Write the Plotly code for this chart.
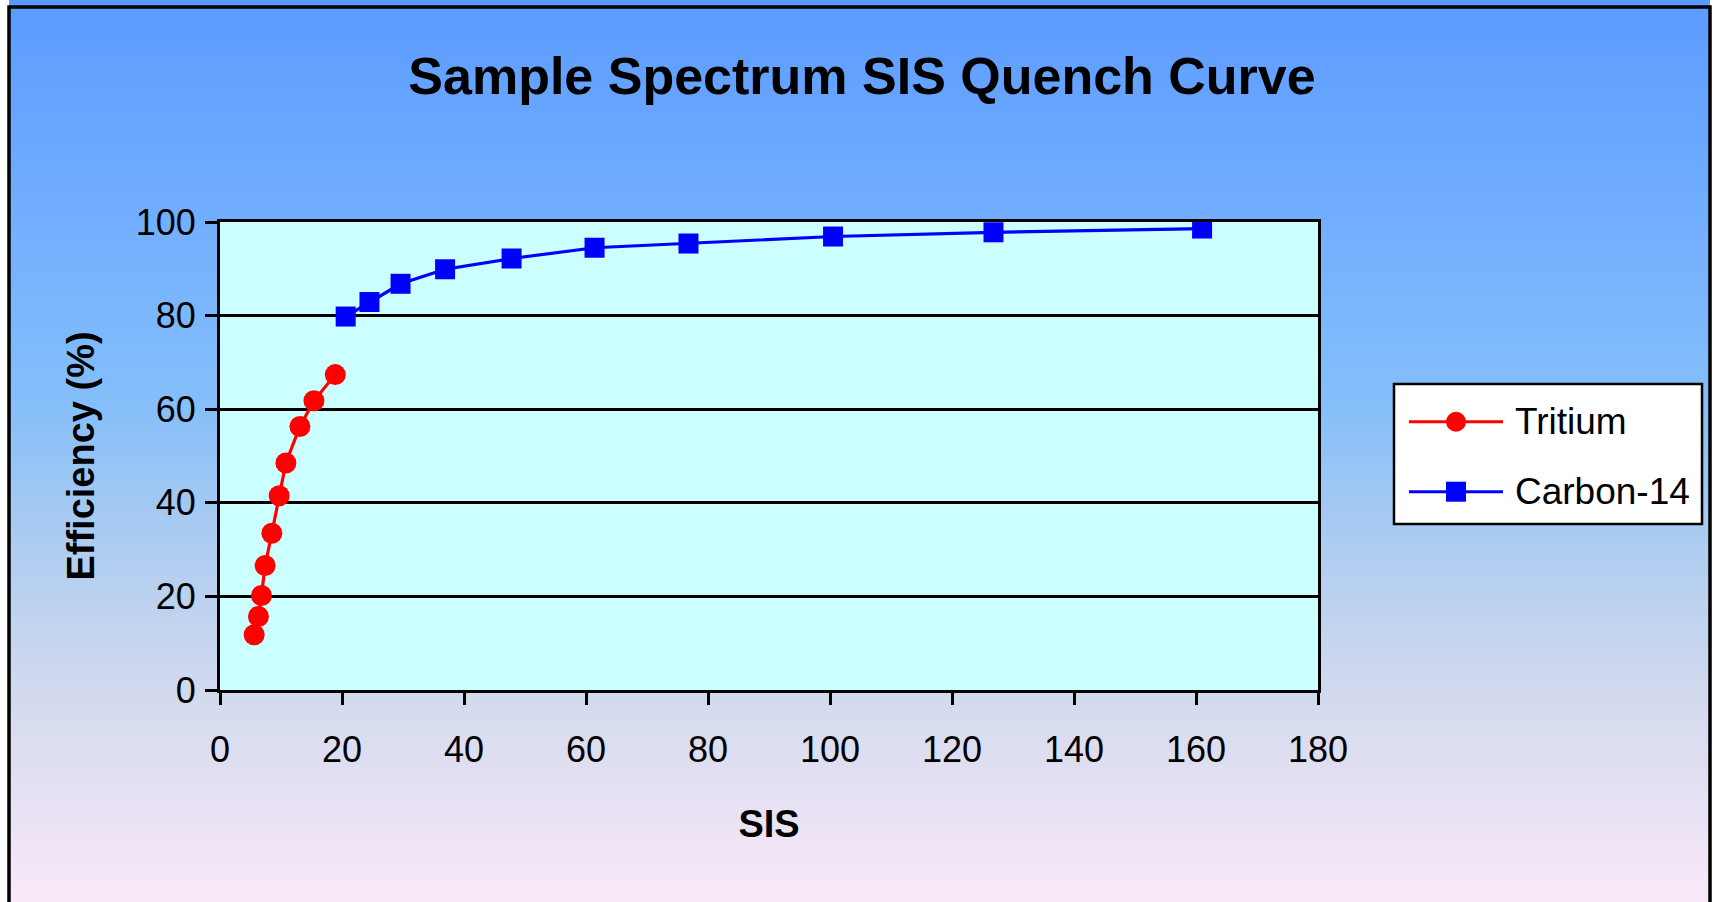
import plotly.graph_objects as go

# ---- data ----
tritium_sis = [5.6, 6.3, 6.8, 7.4, 8.5, 9.7, 10.8, 13.1, 15.4, 18.9]
tritium_eff = [11.8, 15.7, 20.2, 26.6, 33.5, 41.5, 48.5, 56.3, 61.8, 67.4]
carbon_sis = [20.6, 24.5, 29.6, 36.9, 47.8, 61.4, 76.8, 100.5, 126.8, 161.0]
carbon_eff = [79.8, 82.9, 86.8, 89.9, 92.2, 94.5, 95.4, 96.9, 97.8, 98.6]
series_names = ["Tritium", "Carbon-14"]
x_ticks = [0, 20, 40, 60, 80, 100, 120, 140, 160, 180]
y_ticks = [0, 20, 40, 60, 80, 100]

W, H = 1715, 902
FONT = "Arial, Liberation Sans, Helvetica, sans-serif"


def px(x):
    return x / W


def py(y):
    return 1 - y / H


# plot area in pixels
L, R, T, B = 220, 1318, 222, 690

fig = go.Figure()

fig.add_trace(go.Scatter(
    x=tritium_sis, y=tritium_eff, name=series_names[0], mode="lines+markers",
    line=dict(color="#FF0000", width=3.2),
    marker=dict(symbol="circle", size=21, color="#FF0000"),
    showlegend=False, xaxis="x", yaxis="y"))
fig.add_trace(go.Scatter(
    x=carbon_sis, y=carbon_eff, name=series_names[1], mode="lines+markers",
    line=dict(color="#0000FF", width=3.2),
    marker=dict(symbol="square", size=20, color="#0000FF"),
    showlegend=False, xaxis="x", yaxis="y"))

# ---- custom legend on a full-figure pixel overlay ----
leg_items = [(series_names[0], "#FF0000", "circle", 421.7),
             (series_names[1], "#0000FF", "square", 491.7)]
for name, col, sym, yy in leg_items:
    fig.add_trace(go.Scatter(
        x=[1409, 1503], y=[yy, yy], mode="lines",
        line=dict(color=col, width=3),
        showlegend=False, hoverinfo="skip", xaxis="x2", yaxis="y2"))
    fig.add_trace(go.Scatter(
        x=[1456], y=[yy], mode="markers",
        marker=dict(symbol=sym, size=20, color=col, opacity=1),
        showlegend=False, hoverinfo="skip", xaxis="x2", yaxis="y2"))

shapes = []
# gradient background as stripes
stops = [(0, (91, 155, 255)), (200, (112, 173, 255)), (400, (132, 190, 250)),
         (550, (175, 205, 240)), (700, (212, 218, 238)), (800, (230, 225, 243)),
         (902, (250, 233, 248))]


def col_at(y):
    for (y0, c0), (y1, c1) in zip(stops[:-1], stops[1:]):
        if y0 <= y <= y1:
            t = (y - y0) / (y1 - y0)
            return "rgb(%d,%d,%d)" % tuple(round(a + (b - a) * t) for a, b in zip(c0, c1))
    return "rgb(%d,%d,%d)" % stops[-1][1]


step = 5
for y0 in range(0, H, step):
    shapes.append(dict(type="rect", xref="paper", yref="paper", layer="below",
                       x0=px(9), x1=px(1710), y0=py(y0), y1=py(min(y0 + step + 1, H + 10)),
                       fillcolor=col_at(y0 + step / 2), line=dict(width=0)))
# legend box
shapes.append(dict(type="rect", xref="paper", yref="paper", layer="below",
                   x0=px(1394), x1=px(1702), y0=py(384), y1=py(524),
                   fillcolor="white", line=dict(color="black", width=2.5)))
# plot area background
shapes.append(dict(type="rect", xref="x domain", yref="y domain", layer="below",
                   x0=0, x1=1, y0=0, y1=1, fillcolor="#CCFFFF", line=dict(width=0)))
# outer frame
shapes.append(dict(type="rect", xref="paper", yref="paper", layer="above",
                   x0=px(9), x1=px(1710), y0=py(7), y1=py(930),
                   fillcolor="rgba(0,0,0,0)", line=dict(color="black", width=3.5)))

annotations = []
for name, col, sym, yy in leg_items:
    annotations.append(dict(text=name, xref="paper", yref="paper", x=px(1513), y=py(yy),
                            xanchor="left", yanchor="middle", showarrow=False,
                            font=dict(family=FONT, size=37, color="black")))

fig.update_layout(
    template="none",
    width=W, height=H,
    margin=dict(l=0, r=0, t=0, b=0, pad=0),
    paper_bgcolor="white",
    plot_bgcolor="rgba(0,0,0,0)",
    showlegend=False,
    title=dict(text="Sample Spectrum SIS Quench Curve", x=px(862), y=py(76),
               xanchor="center", yanchor="middle", xref="paper", yref="paper",
               automargin=False,
               font=dict(family=FONT, size=52, color="black", weight="bold")),
    xaxis=dict(domain=[px(L), px(R)], range=[0, 180], tickvals=x_ticks,
               ticks="outside", ticklen=12, tickwidth=3, tickcolor="black",
               showline=True, linewidth=3, linecolor="black", mirror=True,
               showgrid=False, zeroline=False, anchor="y", automargin=False,
               ticklabelstandoff=14,
               tickfont=dict(family=FONT, size=36, color="black"),
               title=dict(text="SIS", standoff=42,
                          font=dict(family=FONT, size=38, color="black", weight="bold"))),
    yaxis=dict(domain=[py(B), py(T)], range=[0, 100], tickvals=y_ticks,
               ticks="outside", ticklen=12, tickwidth=3, tickcolor="black",
               showline=True, linewidth=3, linecolor="black", mirror=True,
               showgrid=True, gridcolor="black", gridwidth=3, zeroline=False, anchor="x",
               automargin=False, ticklabelstandoff=2,
               tickfont=dict(family=FONT, size=36, color="black"),
               title=dict(text="Efficiency (%)", standoff=30,
                          font=dict(family=FONT, size=38, color="black", weight="bold"))),
    xaxis2=dict(domain=[0, 1], range=[0, W], visible=False, anchor="y2",
                fixedrange=True, automargin=False),
    yaxis2=dict(domain=[0, 1], range=[H, 0], visible=False, anchor="x2",
                fixedrange=True, automargin=False),
    shapes=shapes,
    annotations=annotations,
)

fig.write_html("out.html")
